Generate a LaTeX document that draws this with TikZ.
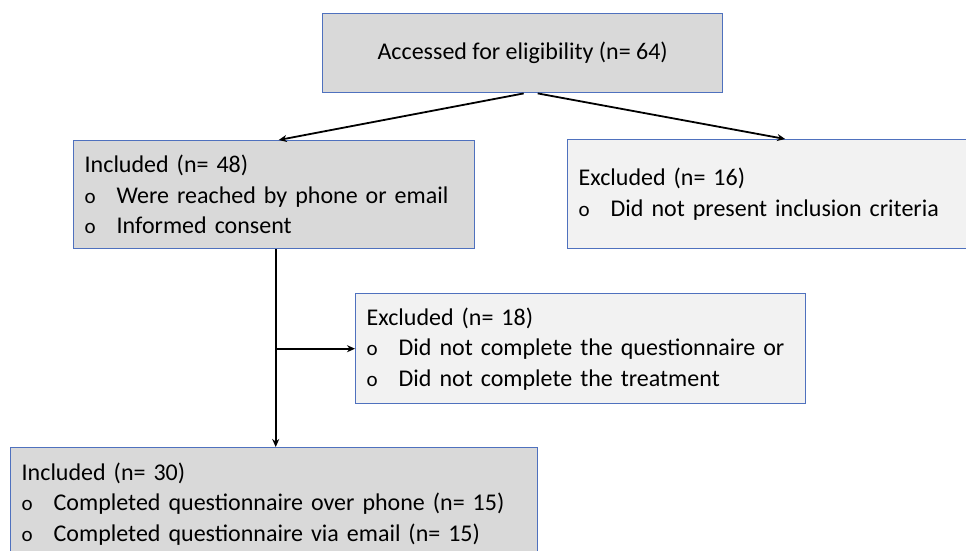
\documentclass[tikz,border=0pt]{standalone}
\usepackage{fontspec}
\setmainfont{Carlito}
\usetikzlibrary{arrows.meta,positioning}
\definecolor{boxblue}{RGB}{79,113,190}
\definecolor{darkfill}{RGB}{217,217,217}
\definecolor{lightfill}{RGB}{242,242,242}
\newcommand{\bitem}[1]{\makebox[32pt][l]{\fontsize{21}{30.5}\selectfont o}#1}
\begin{document}
\begin{tikzpicture}[x=1pt,y=-1pt,
    box/.style={draw=boxblue, line width=1.4pt, inner xsep=11pt, inner ysep=0pt,
      font=\fontsize{24}{30.5}\selectfont, align=left, anchor=north west},
    incbox/.style={box, fill=darkfill},
    excbox/.style={box, fill=lightfill},
    arr/.style={-{Stealth[length=8pt,width=7pt]}, line width=1.8pt}]
  \useasboundingbox (0,0) rectangle (966,550);

  % boxes
  \node[incbox, align=center, minimum width=400, minimum height=79] (access) at (322,13)
    {Accessed for eligibility (n= 64)};
  \node[incbox, text width=379, minimum height=108] (incl) at (73,140)
    {Included (n= 48)\\ \bitem{Were reached by phone or email}\\ \bitem{Informed consent}};
  \node[excbox, text width=383, minimum height=109] (excl) at (567,139)
    {Excluded (n= 16)\\ \bitem{Did not present inclusion criteria}};
  \node[excbox, text width=428, minimum height=110] (excltwo) at (355,293)
    {Excluded (n= 18)\\ \bitem{Did not complete the questionnaire or}\\ \bitem{Did not complete the treatment}};
  \node[incbox, text width=505, minimum height=112] (final) at (10,447)
    {Included (n= 30)\\ \bitem{Completed questionnaire over phone (n= 15)}\\ \bitem{Completed questionnaire via email (n= 15)}};

  % arrows
  \draw[arr] ([xshift=1pt]access.south) -- ([xshift=4.5pt]incl.north);
  \draw[arr] ([xshift=15pt]access.south) -- ([xshift=15pt]excl.north);
  \coordinate (split) at ([xshift=1.5pt]incl.south |- excltwo.west);
  \draw[arr] ([xshift=1.5pt]incl.south) -- ([xshift=1.5pt]incl.south |- final.north);
  \draw[arr] (split) -- (excltwo.west);
\end{tikzpicture}
\end{document}
